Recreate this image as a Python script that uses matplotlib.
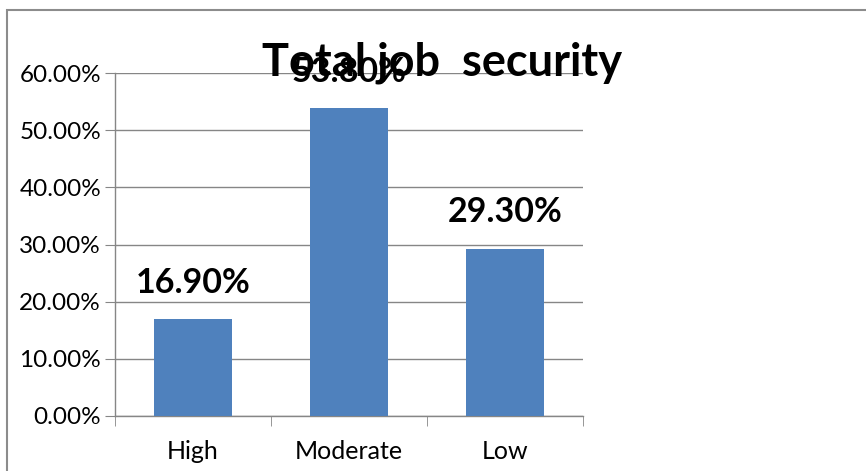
import matplotlib.pyplot as plt
from matplotlib.patches import Rectangle
from matplotlib.ticker import PercentFormatter, FixedLocator

plt.rcParams['font.family'] = ['Lato', 'DejaVu Sans']

categories = ['High', 'Moderate', 'Low']
values = [16.9, 53.8, 29.3]
labels = ['16.90%', '53.80%', '29.30%']
bar_color = '#4F81BD'
grid_color = '#868686'

fig = plt.figure(figsize=(8.66, 4.71), dpi=100)
ax = fig.add_axes([115/866, 1-416/471, (583-115)/866, (416-73)/471])

x = range(len(categories))
bars = ax.bar(x, values, width=0.5, color=bar_color, zorder=3)

# data labels above bars
for b, lab in zip(bars, labels):
    ax.annotate(lab, (b.get_x() + b.get_width()/2, b.get_height()),
                xytext=(0, 15), textcoords='offset points',
                ha='center', va='bottom', fontsize=24.5, fontweight='bold')

ax.set_xlim(-0.5, 2.5)
ax.set_ylim(0, 60)
ax.set_yticks(range(0, 61, 10))
ax.yaxis.set_major_formatter(PercentFormatter(decimals=2))
ax.set_xticks(list(x))
ax.set_xticklabels(categories)
ax.xaxis.set_minor_locator(FixedLocator([-0.5, 0.5, 1.5, 2.5]))
ax.tick_params(axis='x', which='major', length=0, pad=17, labelsize=18)
ax.tick_params(axis='x', which='minor', length=7, color=grid_color, direction='out')
ax.tick_params(axis='y', length=7, color=grid_color, labelsize=17.5, pad=3)
ax.grid(axis='y', color=grid_color, linewidth=1, zorder=0)

for s in ['top', 'right']:
    ax.spines[s].set_visible(False)
for s in ['left', 'bottom']:
    ax.spines[s].set_color(grid_color)
    ax.spines[s].set_linewidth(1)

fig.text(0.51, 1-75/471, 'Total job  security', ha='center', va='baseline',
         fontsize=32.5, fontweight='bold', zorder=10)

# chart border
fig.add_artist(Rectangle((7/866, -0.1), 1.2, 1.1 - 10/471,
                         transform=fig.transFigure, fill=False,
                         edgecolor='#8c8c8c', linewidth=1.5))

fig.savefig('out.png', dpi=100)
